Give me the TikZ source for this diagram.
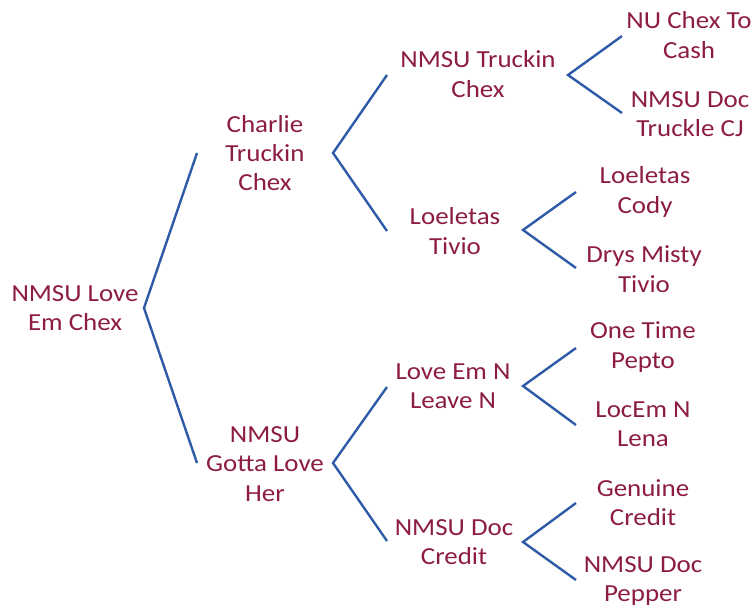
\documentclass[tikz,border=0pt]{standalone}
\usepackage{fontspec}
\setmainfont{Carlito}[FakeStretch=1.1]
\usepackage{xcolor}
\definecolor{horse}{RGB}{140,29,64}
\definecolor{branch}{RGB}{47,90,168}

\begin{document}
\begin{tikzpicture}[x=1pt,y=-1pt,
        horsebox/.style={text=horse,align=center,inner sep=0pt,font=\fontsize{24.5}{29.3}\selectfont},
        fork/.style={draw=branch,line width=2.4pt,line join=miter}]
        \useasboundingbox (0,0) rectangle (754,608);
        % horses
        \node[horsebox] (root) at (75,308) {NMSU Love\\Em Chex};
        \node[horsebox] (charlie) at (265,153) {Charlie\\Truckin\\Chex};
        \node[horsebox] (gotta) at (265,464) {NMSU\\Gotta Love\\Her};
        \node[horsebox] (truckin) at (478,74) {NMSU Truckin\\Chex};
        \node[horsebox] (tivio) at (455,231) {Loeletas\\Tivio};
        \node[horsebox] (leave) at (453,386) {Love Em N\\Leave N};
        \node[horsebox] (credit) at (454,542) {NMSU Doc\\Credit};
        \node[horsebox] (cash) at (689,35) {NU Chex To\\Cash};
        \node[horsebox] (truckle) at (690,114) {NMSU Doc\\Truckle CJ};
        \node[horsebox] (cody) at (645,192) {Loeletas\\Cody};
        \node[horsebox] (misty) at (644,269) {Drys Misty\\Tivio};
        \node[horsebox] (pepto) at (643,347) {One Time\\Pepto};
        \node[horsebox] (lena) at (643,424) {LocEm N\\Lena};
        \node[horsebox] (genuine) at (643,503) {Genuine\\Credit};
        \node[horsebox] (pepper) at (643,581) {NMSU Doc\\Pepper};
        % forks
        \coordinate (root-v) at (144,308);
        \coordinate (root-a) at (197,153);
        \coordinate (root-b) at (197,463);
        \coordinate (charlie-v) at (333,153);
        \coordinate (charlie-a) at (387,75);
        \coordinate (charlie-b) at (387,231);
        \coordinate (gotta-v) at (333,463);
        \coordinate (gotta-a) at (387,387);
        \coordinate (gotta-b) at (387,541);
        \coordinate (truckin-v) at (568,75);
        \coordinate (truckin-a) at (622,36);
        \coordinate (truckin-b) at (622,113);
        \coordinate (tivio-v) at (523,230);
        \coordinate (tivio-a) at (576,192);
        \coordinate (tivio-b) at (576,268);
        \coordinate (leave-v) at (523,386);
        \coordinate (leave-a) at (576,348);
        \coordinate (leave-b) at (576,425);
        \coordinate (credit-v) at (523,542);
        \coordinate (credit-a) at (576,503);
        \coordinate (credit-b) at (576,580);
        \foreach \n in {root,charlie,gotta,truckin,tivio,leave,credit}
                \draw[fork] (\n-a) -- (\n-v) -- (\n-b);
\end{tikzpicture}
\end{document}
